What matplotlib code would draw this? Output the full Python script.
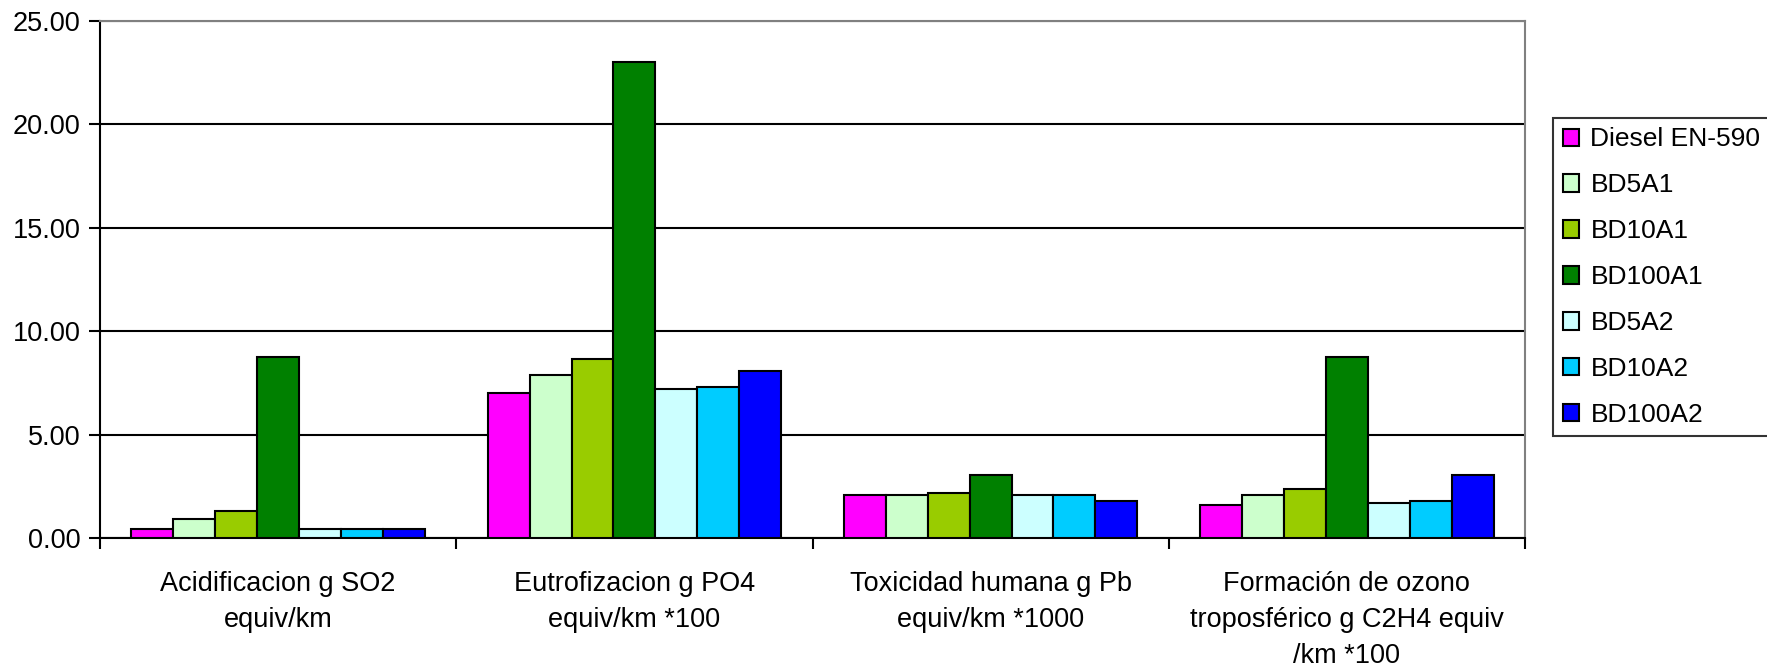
import matplotlib.pyplot as plt
import numpy as np

plt.rcParams['font.family'] = ['Liberation Sans', 'DejaVu Sans']

# categories (x axis)
categories = ['Acidificacion g SO2\nequiv/km',
              'Eutrofizacion g PO4\nequiv/km *100',
              'Toxicidad humana g Pb\nequiv/km *1000',
              'Formación de ozono\ntroposférico g C2H4 equiv\n/km *100']

# series values, one list per fuel
diesel = [0.44, 7.03, 2.10, 1.61]
bd5a1 = [0.92, 7.88, 2.08, 2.08]
bd10a1 = [1.31, 8.67, 2.20, 2.35]
bd100a1 = [8.77, 23.0, 3.05, 8.77]
bd5a2 = [0.44, 7.20, 2.08, 1.69]
bd10a2 = [0.44, 7.29, 2.08, 1.80]
bd100a2 = [0.44, 8.07, 1.80, 3.05]

names = ['Diesel EN-590', 'BD5A1', 'BD10A1', 'BD100A1', 'BD5A2', 'BD10A2', 'BD100A2']
colors = ['#FF00FF', '#CCFFCC', '#99CC00', '#008000', '#CCFFFF', '#00CCFF', '#0000FF']
series = [diesel, bd5a1, bd10a1, bd100a1, bd5a2, bd10a2, bd100a2]

fs = 19.5

fig = plt.figure(figsize=(17.67, 6.68), dpi=100)
ax = fig.add_axes([100/1767, 1-538/668, 1425/1767, 517/668])

x = np.arange(len(categories))
w = 1/8.5
for i, (vals, name, c) in enumerate(zip(series, names, colors)):
    ax.bar(x + (i - 3)*w, vals, width=w, color=c, edgecolor='black',
           linewidth=1.5, label=name, zorder=3)

ax.set_xlim(-0.5, len(categories) - 0.5)
ax.set_ylim(0, 25)
ax.set_yticks(np.arange(0, 26, 5))
ax.set_yticklabels(['%.2f' % v for v in np.arange(0, 26, 5)], fontsize=fs)
ax.yaxis.grid(True, color='black', linewidth=1.5, zorder=0)

ax.set_xticks(x)
ax.set_xticklabels(categories, fontsize=fs, linespacing=1.5, va='top')
ax.tick_params(axis='x', length=0, pad=24)
ax.set_xticks(np.arange(-0.5, len(categories)), minor=True)
ax.tick_params(axis='x', which='minor', length=8, width=1.5, direction='out')
ax.tick_params(axis='y', length=8, width=1.5, direction='out', pad=6)

ax.spines['left'].set_linewidth(1.5)
ax.spines['bottom'].set_linewidth(1.5)
for s in ['top', 'right']:
    ax.spines[s].set_color('#808080')
    ax.spines[s].set_linewidth(1.5)

leg = fig.legend(loc='upper left', bbox_to_anchor=(1553/1767, 1-118/668),
                 fontsize=19, frameon=True, fancybox=False, handlelength=0.64,
                 handleheight=0.64, handletextpad=0.42, labelspacing=0.83,
                 borderpad=0.36, borderaxespad=0)
leg.get_frame().set_edgecolor('black')
leg.get_frame().set_linewidth(1.5)

fig.savefig('out.png', dpi=100)
